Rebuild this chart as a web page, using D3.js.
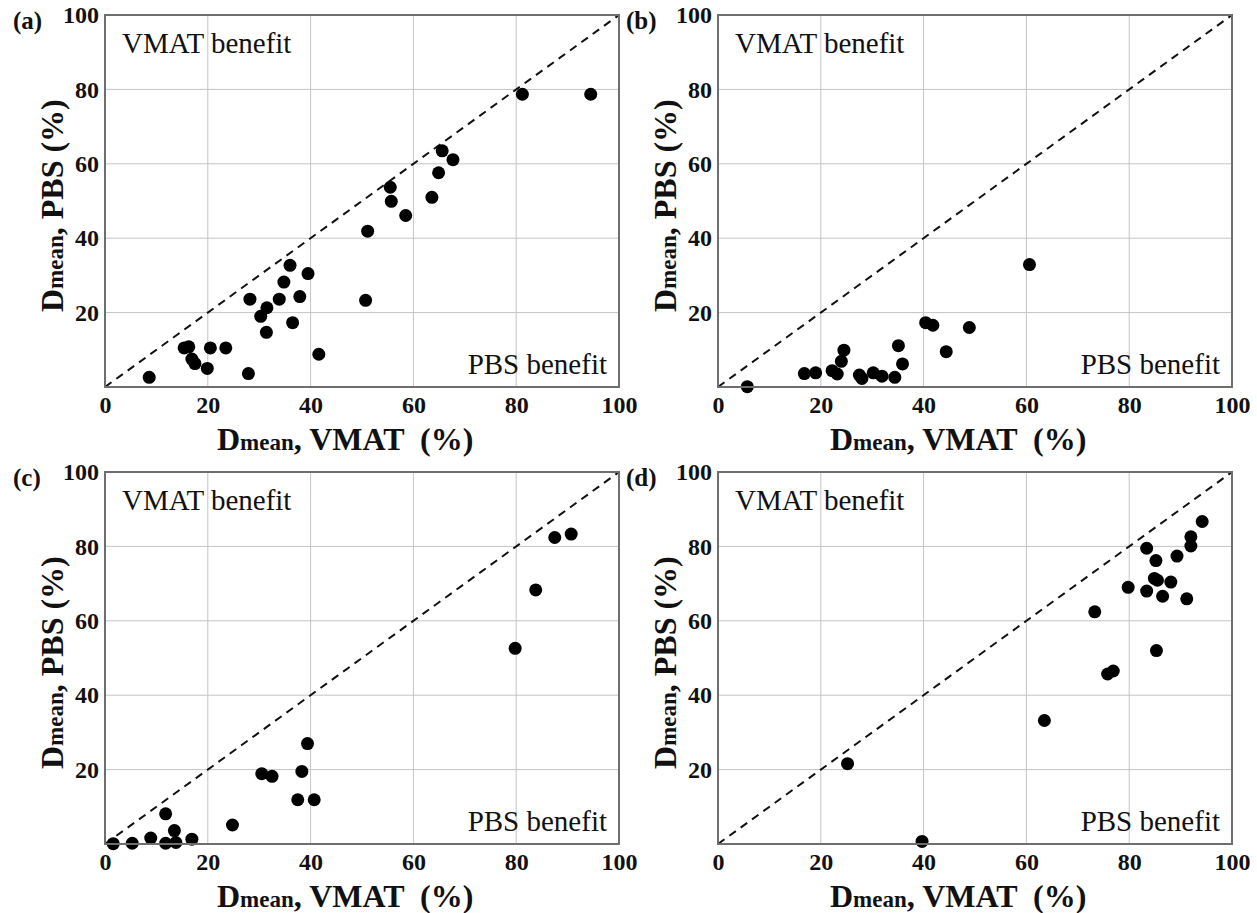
<!DOCTYPE html>
<html>
<head>
<meta charset="utf-8">
<script src="https://cdn.jsdelivr.net/npm/d3@7"></script>
<style>
  body { margin: 0; background: #fff; }
  svg text { font-family: "Liberation Serif", "Times New Roman", Times, serif !important; }
</style>
</head>
<body>
<div id="okvir"></div>
<script>
// podaci po panelima: Dmean VMAT (x) i Dmean PBS (y), u %
const aVmat = [8.6, 15.4, 16.3, 16.9, 17.5, 19.9, 20.5, 23.5, 27.9, 28.2, 30.3, 31.5, 31.4, 33.9, 34.8, 36.0, 36.5, 37.9, 39.5, 41.6, 50.7, 51.1, 55.5, 55.7, 58.5, 63.6, 64.9, 65.6, 67.7, 81.2, 94.5]
const aPbs  = [2.6, 10.5, 10.8, 7.5, 6.3, 5.0, 10.5, 10.5, 3.6, 23.6, 19.0, 21.3, 14.7, 23.6, 28.2, 32.7, 17.3, 24.3, 30.5, 8.8, 23.3, 41.9, 53.7, 49.9, 46.1, 51.0, 57.6, 63.5, 61.1, 78.7, 78.7]

const bVmat = [5.7, 16.8, 19.0, 22.2, 23.2, 24.0, 24.5, 27.5, 28.0, 30.2, 31.9, 34.4, 35.1, 35.9, 40.4, 41.8, 44.4, 48.9, 60.6]
const bPbs  = [0.1, 3.6, 3.8, 4.4, 3.5, 6.9, 9.9, 3.2, 2.3, 3.8, 2.9, 2.6, 11.1, 6.2, 17.3, 16.6, 9.5, 16.0, 32.9]

const cVmat = [1.6, 5.3, 8.9, 11.8, 11.8, 13.5, 13.8, 16.9, 24.8, 30.5, 32.5, 37.5, 38.3, 39.4, 40.7, 79.8, 83.8, 87.5, 90.7]
const cPbs  = [0.1, 0.2, 1.6, 8.1, 0.2, 3.6, 0.4, 1.3, 5.1, 18.9, 18.2, 11.9, 19.5, 27.0, 11.9, 52.6, 68.3, 82.4, 83.3]

const dVmat = [25.2, 39.7, 63.5, 73.3, 75.8, 76.9, 79.8, 83.4, 83.4, 85.2, 84.9, 85.5, 85.3, 86.5, 88.1, 89.3, 91.2, 92.0, 92.0, 94.2]
const dPbs  = [21.6, 0.7, 33.2, 62.4, 45.7, 46.5, 69.0, 79.5, 68.0, 76.2, 71.4, 70.9, 52.0, 66.6, 70.4, 77.4, 65.9, 80.1, 82.6, 86.7]

const xTicks = [0, 20, 40, 60, 80, 100]
const yTicks = [20, 40, 60, 80, 100]
const gridVals = [20, 40, 60, 80]

const panels = [
  { oznaka: "(a)", x: aVmat, y: aPbs, left: 105, top: 15 },
  { oznaka: "(b)", x: bVmat, y: bPbs, left: 718, top: 15 },
  { oznaka: "(c)", x: cVmat, y: cPbs, left: 105, top: 472 },
  { oznaka: "(d)", x: dVmat, y: dPbs, left: 718, top: 472 },
]

const dimenzije = { sirina: 1257, visina: 913, grSirina: 514, grVisina: 372 }

const okvir = d3.select("#okvir").append("svg")
  .attr("width", dimenzije.sirina)
  .attr("height", dimenzije.visina)

panels.forEach((p, idx) => crtajPanel(p, idx))

function crtajPanel(p, idx) {
  const w = dimenzije.grSirina, h = dimenzije.grVisina
  const granice = okvir.append("g")
    .attr("transform", `translate(${p.left},${p.top})`)

  const xSkala = d3.scaleLinear().domain([0, 100]).range([0, w])
  const ySkala = d3.scaleLinear().domain([0, 100]).range([h, 0])

  // mreza
  granice.append("g").selectAll("line")
    .data(gridVals)
    .join("line")
    .attr("x1", d => xSkala(d)).attr("x2", d => xSkala(d))
    .attr("y1", 0).attr("y2", h)
    .attr("stroke", "#c4c4c4").attr("stroke-width", 1)
  granice.append("g").selectAll("line")
    .data(gridVals)
    .join("line")
    .attr("y1", d => ySkala(d)).attr("y2", d => ySkala(d))
    .attr("x1", 0).attr("x2", w)
    .attr("stroke", "#c4c4c4").attr("stroke-width", 1)

  // dijagonala
  const clipId = "clip" + idx
  granice.append("clipPath").attr("id", clipId)
    .append("rect").attr("width", w).attr("height", h)
  granice.append("line")
    .attr("x1", xSkala(0)).attr("y1", ySkala(0))
    .attr("x2", xSkala(100)).attr("y2", ySkala(100))
    .attr("stroke", "#111").attr("stroke-width", 2)
    .attr("stroke-dasharray", "8,6")
    .attr("clip-path", `url(#${clipId})`)

  // tocke
  granice.append("g").selectAll("circle")
    .data(p.x.map((v, i) => ({ x: v, y: p.y[i] })))
    .join("circle")
    .attr("cx", d => xSkala(d.x))
    .attr("cy", d => ySkala(d.y))
    .attr("r", 6.5)
    .attr("fill", "#000")

  // okvir
  granice.append("rect")
    .attr("width", w).attr("height", h)
    .attr("fill", "none")
    .attr("stroke", "#6e6e6e").attr("stroke-width", 2)

  // osi
  const xOs = d3.axisBottom(xSkala).tickValues(xTicks).tickSize(0).tickPadding(9)
  granice.append("g")
    .attr("transform", `translate(0,${h})`)
    .call(xOs)
    .call(g => g.select(".domain").remove())
    .selectAll("text")
    .attr("font-size", 24).attr("font-weight", "bold").attr("fill", "#111")

  const yOs = d3.axisLeft(ySkala).tickValues(yTicks).tickSize(0).tickPadding(6)
  granice.append("g")
    .call(yOs)
    .call(g => g.select(".domain").remove())
    .selectAll("text")
    .attr("font-size", 24).attr("font-weight", "bold").attr("fill", "#111")

  // napomene
  granice.append("text")
    .attr("x", 17).attr("y", 38)
    .attr("font-size", 29).attr("fill", "#111")
    .text("VMAT benefit")
  granice.append("text")
    .attr("x", w - 12).attr("y", h - 13)
    .attr("text-anchor", "end")
    .attr("font-size", 29).attr("fill", "#111")
    .text("PBS benefit")

  // oznaka panela
  granice.append("text")
    .attr("x", -92).attr("y", 14)
    .attr("font-size", 25).attr("font-weight", "bold").attr("fill", "#111")
    .text(p.oznaka)

  // naslov x osi
  const xNaslov = granice.append("text")
    .attr("x", 112).attr("y", h + 63)
    .attr("font-weight", "bold").attr("fill", "#111")
    .style("white-space", "pre")
  xNaslov.append("tspan").attr("font-size", 32).text("D")
  xNaslov.append("tspan").attr("font-size", 23).text("mean")
  xNaslov.append("tspan").attr("font-size", 32).text(", VMAT  (%)")

  // naslov y osi
  const yNaslov = granice.append("text")
    .attr("transform", `translate(-42,${h - 75}) rotate(-90)`)
    .attr("font-weight", "bold").attr("fill", "#111")
    .style("white-space", "pre")
  yNaslov.append("tspan").attr("font-size", 32).text("D")
  yNaslov.append("tspan").attr("font-size", 23).text("mean")
  yNaslov.append("tspan").attr("font-size", 32).text(", PBS (%)")
}
</script>
</body>
</html>
